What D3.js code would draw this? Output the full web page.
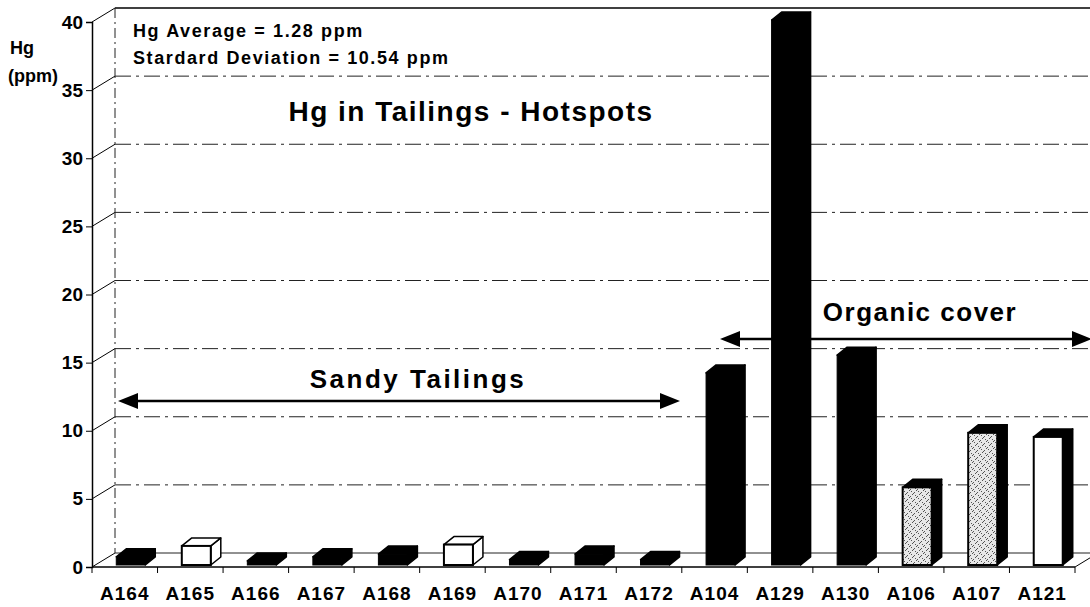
<!DOCTYPE html>
<html lang="en">
<head>
<meta charset="UTF-8">
<title>Hg in Tailings - Hotspots</title>
<script src="https://d3js.org/d3.v7.min.js"></script>
<style>
  body { margin: 0; background: #fff; }
  text { font-family: Arial, "Liberation Sans", sans-serif; font-weight: bold; fill: #000; }
</style>
</head>
<body>
<div id="chart"></div>
<script>
// sample ids along the x axis
const categories = ["A164", "A165", "A166", "A167", "A168", "A169", "A170", "A171", "A172",
                    "A104", "A129", "A130", "A106", "A107", "A121"];
// Hg in ppm
const hgValues = [0.6, 1.4, 0.3, 0.6, 0.8, 1.5, 0.4, 0.8, 0.4, 14.1, 40, 15.4, 5.7, 9.7, 9.4];
// bar look per sample
const barKind = ["solid", "open", "solid", "solid", "solid", "open", "solid", "solid", "solid",
                 "solid", "solid", "solid", "speckle", "speckle", "light"];
const yTicks = [0, 5, 10, 15, 20, 25, 30, 35, 40];
const statLines = ["Hg Average = 1.28 ppm", "Stardard Deviation = 10.54 ppm"];

const W = 1090, H = 607;
const wallDx = 23, wallDy = -14;   // depth of the back wall
const barDx = 10, barDy = -8;      // depth of a single column

const svg = d3.select("#chart").append("svg")
    .attr("width", W).attr("height", H);

// speckled fill used by two of the bars
const pat = svg.append("defs").append("pattern")
    .attr("id", "speckle").attr("patternUnits", "userSpaceOnUse")
    .attr("width", 7).attr("height", 7);
pat.append("rect").attr("width", 7).attr("height", 7).attr("fill", "#e8e8e8");
[[1, 1], [4, 2], [2, 4], [5, 5], [0, 6], [6, 0], [3, 3]].forEach(p => {
    pat.append("rect").attr("x", p[0]).attr("y", p[1]).attr("width", 1).attr("height", 1)
        .attr("fill", "#555");
});

const x = d3.scaleBand().domain(categories).range([92, 1075]);
const y = d3.scaleLinear().domain([0, 40]).range([567, 22]);

// back wall gridlines
const grid = svg.append("g");
yTicks.forEach(t => {
    const yb = y(t) + wallDy;
    grid.append("line")
        .attr("x1", 92 + wallDx).attr("x2", W)
        .attr("y1", yb).attr("y2", yb)
        .attr("stroke", t === 40 ? "#000" : "#222")
        .attr("stroke-width", t === 40 ? 1.5 : 1)
        .attr("stroke-dasharray", t === 40 || t === 0 ? null : "16,5,3,5");
    // diagonal from axis to wall
    grid.append("line")
        .attr("x1", 92).attr("y1", y(t))
        .attr("x2", 92 + wallDx).attr("y2", yb)
        .attr("stroke", "#000").attr("stroke-width", 1);
});
// back wall left edge
grid.append("line")
    .attr("x1", 92 + wallDx).attr("x2", 92 + wallDx)
    .attr("y1", y(40) + wallDy).attr("y2", y(0) + wallDy)
    .attr("stroke", "#222").attr("stroke-dasharray", "10,4,2,4");
// floor right edge
grid.append("line")
    .attr("x1", 1075).attr("y1", y(0))
    .attr("x2", 1075 + wallDx).attr("y2", y(0) + wallDy)
    .attr("stroke", "#000");

// y axis
const yAxis = svg.append("g").attr("transform", "translate(92,0)")
    .call(d3.axisLeft(y).tickValues(yTicks).tickSize(6).tickPadding(3));
yAxis.select(".domain").attr("stroke", "#000").attr("stroke-width", 1.5);
yAxis.selectAll("text").style("font-size", "19px").style("font-family", "Arial").style("font-weight", "bold");

// x axis with ticks at category boundaries
const xAxis = svg.append("g").attr("transform", `translate(0,${y(0)})`);
xAxis.append("line").attr("x1", 92).attr("x2", 1075).attr("stroke", "#000").attr("stroke-width", 1.5);
categories.concat([null]).forEach((c, i) => {
    const xx = 92 + i * x.bandwidth();
    xAxis.append("line").attr("x1", xx).attr("x2", xx).attr("y1", 0).attr("y2", 6)
        .attr("stroke", "#000");
});
xAxis.selectAll("text.cat").data(categories).join("text")
    .attr("class", "cat")
    .attr("x", d => x(d) + x.bandwidth() / 2)
    .attr("y", 33)
    .attr("text-anchor", "middle")
    .style("font-size", "19px")
    .style("letter-spacing", "1px")
    .text(d => d);

// columns
const faceW = 29;
const bars = svg.append("g");
categories.forEach((c, i) => {
    const v = hgValues[i];
    const kind = barKind[i];
    const x0 = x(c) + x.bandwidth() / 2 - 8.5;
    const yb = y(0) - 2;
    const yt = y(v) - 2;
    const g = bars.append("g");
    const frontFill = kind === "solid" ? "#000" : kind === "speckle" ? "url(#speckle)" : "#fff";
    const sideFill = kind === "open" ? "#fff" : "#000";
    const topFill = kind === "open" ? "#fff" : "#000";
    // side
    g.append("path")
        .attr("d", `M${x0 + faceW},${yb} L${x0 + faceW + barDx},${yb + barDy} L${x0 + faceW + barDx},${yt + barDy} L${x0 + faceW},${yt} Z`)
        .attr("fill", sideFill).attr("stroke", "#000").attr("stroke-width", 1.5)
        .attr("stroke-linejoin", "round");
    // top
    g.append("path")
        .attr("d", `M${x0},${yt} L${x0 + barDx},${yt + barDy} L${x0 + faceW + barDx},${yt + barDy} L${x0 + faceW},${yt} Z`)
        .attr("fill", topFill).attr("stroke", "#000").attr("stroke-width", 1.5)
        .attr("stroke-linejoin", "round");
    // front
    g.append("rect")
        .attr("x", x0).attr("y", yt)
        .attr("width", faceW).attr("height", yb - yt)
        .attr("fill", frontFill).attr("stroke", "#000")
        .attr("stroke-width", kind === "solid" ? 1 : 2);
});

// arrow helper
function arrow(x1, x2, yy) {
    const g = svg.append("g");
    g.append("line").attr("x1", x1 + 18).attr("x2", x2 - 18).attr("y1", yy).attr("y2", yy)
        .attr("stroke", "#000").attr("stroke-width", 2.5);
    g.append("path").attr("d", `M${x1},${yy} L${x1 + 20},${yy - 8} L${x1 + 20},${yy + 8} Z`).attr("fill", "#000");
    g.append("path").attr("d", `M${x2},${yy} L${x2 - 20},${yy - 8} L${x2 - 20},${yy + 8} Z`).attr("fill", "#000");
}
arrow(118, 680, 401);
arrow(720, 1092, 339);

// texts
svg.append("text").attr("x", 471).attr("y", 121).attr("text-anchor", "middle")
    .style("font-size", "28px").style("letter-spacing", "1.5px").text("Hg in Tailings - Hotspots");
svg.append("text").attr("x", 418).attr("y", 388).attr("text-anchor", "middle")
    .style("font-size", "26px").style("letter-spacing", "2.5px").text("Sandy Tailings");
svg.append("text").attr("x", 920).attr("y", 321).attr("text-anchor", "middle")
    .style("font-size", "26px").style("letter-spacing", "1.5px").text("Organic cover");
statLines.forEach((s, i) => {
    svg.append("text").attr("x", 133).attr("y", 37 + i * 27)
        .style("font-size", "18px").style("letter-spacing", "1.6px").text(s);
});
svg.append("text").attr("x", 10).attr("y", 54).style("font-size", "18px").text("Hg");
svg.append("text").attr("x", 8).attr("y", 82).style("font-size", "18px").text("(ppm)");
</script>
</body>
</html>
